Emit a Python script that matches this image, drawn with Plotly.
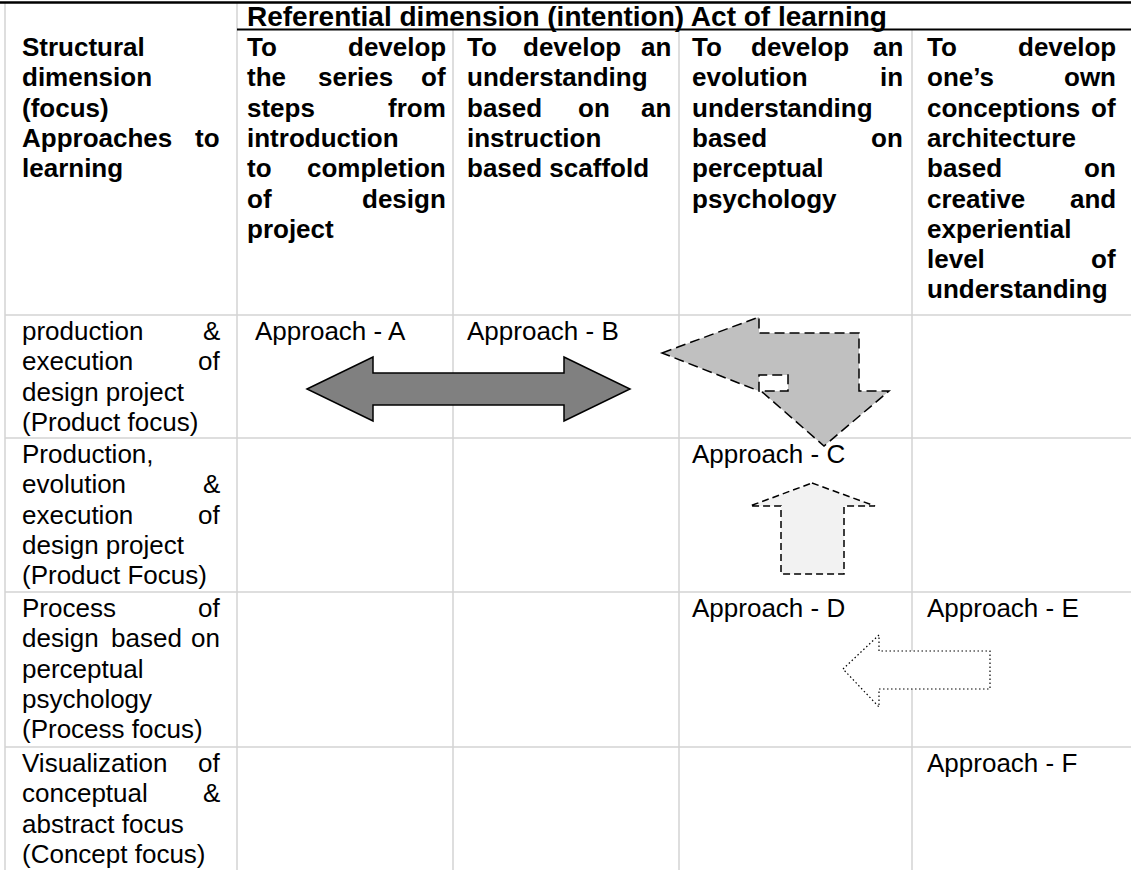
import plotly.graph_objects as go

W, H = 1131, 870

# ---------------- data (table content) ----------------
header_title = "Referential dimension (intention) Act of learning"

col_headers = [
    ["Structural", "dimension", "(focus)", "Approaches to", "learning"],
    ["To develop", "the series of", "steps from", "introduction", "to completion", "of design", "project"],
    ["To develop an", "understanding", "based on an", "instruction", "based scaffold"],
    ["To develop an", "evolution in", "understanding", "based on", "perceptual", "psychology"],
    ["To develop", "one’s own", "conceptions of", "architecture", "based on", "creative and",
     "experiential", "level of", "understanding"],
]
col_header_justified = [
    [False, False, False, True, False],
    [True, True, True, False, True, True, False],
    [True, False, True, False, False],
    [True, True, False, True, False, False],
    [True, True, True, False, True, True, False, True, False],
]

row_labels = [
    ["production &", "execution of", "design project", "(Product focus)"],
    ["Production,", "evolution &", "execution of", "design project", "(Product Focus)"],
    ["Process of", "design based on", "perceptual", "psychology", "(Process focus)"],
    ["Visualization of", "conceptual &", "abstract focus", "(Concept focus)"],
]
row_label_justified = [
    [True, True, False, False],
    [False, True, True, False, False],
    [True, True, False, False, False],
    [True, True, False, False],
]

approach_text = ["Approach - A", "Approach - B", "Approach - C", "Approach - D", "Approach - E", "Approach - F"]
approach_row = [0, 0, 1, 2, 2, 3]
approach_col = [1, 2, 3, 3, 4, 4]

# ---------------- layout geometry ----------------
col_lines = [5, 237, 453, 679, 912]
row_tops = [315, 438, 592, 747]
head_left = [20, 245, 465, 690, 925]
head_right = [222, 448, 673, 905, 1118]
body_left = [20, 253, 465, 690, 925]
body_right = [222, 448, 673, 905, 1118]
LINE_H = 30.3
HEAD_Y0 = 47
BODY_DY = 16
FS_REG = 26
FS_BOLD = 26
FS_TITLE = 28
FONT = "Liberation Sans, Arial, sans-serif"
FONT_B = "Liberation Sans, Arial, sans-serif"

REG = {' ': 278, '&': 667, '(': 333, ')': 333, ',': 278, '-': 333, '’': 222,
       'a': 556, 'b': 556, 'c': 500, 'd': 556, 'e': 556, 'f': 278, 'g': 556, 'h': 556, 'i': 222,
       'j': 222, 'k': 500, 'l': 222, 'm': 833, 'n': 556, 'o': 556, 'p': 556, 'q': 556, 'r': 333,
       's': 500, 't': 278, 'u': 556, 'v': 500, 'w': 722, 'x': 500, 'y': 500, 'z': 500,
       'A': 667, 'B': 667, 'C': 722, 'D': 722, 'E': 667, 'F': 611, 'P': 667, 'V': 667}
BOLD = {' ': 278, '&': 722, '(': 333, ')': 333, ',': 278, '-': 333, '’': 278,
        'a': 556, 'b': 611, 'c': 556, 'd': 611, 'e': 556, 'f': 333, 'g': 611, 'h': 611, 'i': 278,
        'j': 278, 'k': 556, 'l': 278, 'm': 889, 'n': 611, 'o': 611, 'p': 611, 'q': 611, 'r': 389,
        's': 556, 't': 333, 'u': 611, 'v': 556, 'w': 778, 'x': 556, 'y': 556, 'z': 500,
        'A': 722, 'S': 667, 'T': 611, 'R': 722}


def tw(s, bold, size):
    tbl = BOLD if bold else REG
    return sum(tbl.get(ch, 556) for ch in s) * size / 1000.0


annotations = []


def add_text(x, y, s, bold, size, anchor="left"):
    txt = "<b>%s</b>" % s if bold else s
    annotations.append(dict(x=x, y=y, xref="x", yref="y", text=txt, showarrow=False,
                            xanchor=anchor, yanchor="middle",
                            font=dict(family=FONT_B if bold else FONT, size=size, color="black")))


def add_line(s, xl, xr, y, bold, size, justified):
    words = s.split(" ")
    if not justified or len(words) < 2:
        add_text(xl, y, s, bold, size, "left")
        return
    widths = [tw(w, bold, size) for w in words]
    gap = (xr - xl - sum(widths)) / (len(words) - 1)
    x = xl
    for i, w in enumerate(words):
        if i == 0:
            add_text(xl, y, w, bold, size, "left")
        elif i == len(words) - 1:
            add_text(xr, y, w, bold, size, "right")
        else:
            add_text(x, y, w, bold, size, "left")
        x += widths[i] + gap


# title row
add_text(245, 16, header_title, True, FS_TITLE, "left")

# column headers
for c, lines in enumerate(col_headers):
    for i, ln in enumerate(lines):
        add_line(ln, head_left[c], head_right[c], HEAD_Y0 + i * LINE_H, True, FS_BOLD,
                 col_header_justified[c][i])

# row labels
for r, lines in enumerate(row_labels):
    for i, ln in enumerate(lines):
        add_line(ln, body_left[0], body_right[0], row_tops[r] + BODY_DY + i * LINE_H, False, FS_REG,
                 row_label_justified[r][i])

# approach cells
for t, r, c in zip(approach_text, approach_row, approach_col):
    add_text(body_left[c], row_tops[r] + BODY_DY, t, False, FS_REG, "left")

# ---------------- shapes ----------------
shapes = []
GRID = "#D3D3D3"
for i, x in enumerate(col_lines):
    y0 = 3 if i < 2 else 29
    shapes.append(dict(type="line", xref="x", yref="y", x0=x, x1=x, y0=y0, y1=H,
                       line=dict(color=GRID, width=1.5), layer="below"))
for y in row_tops:
    shapes.append(dict(type="line", xref="x", yref="y", x0=col_lines[0], x1=W, y0=y, y1=y,
                       line=dict(color=GRID, width=1.5), layer="below"))
shapes.append(dict(type="line", xref="x", yref="y", x0=0, x1=W, y0=2.5, y1=2.5,
                   line=dict(color="black", width=2.5)))
shapes.append(dict(type="line", xref="x", yref="y", x0=col_lines[1], x1=W, y0=29.5, y1=29.5,
                   line=dict(color="black", width=2)))


def poly(pts):
    return "M " + " L ".join("%.1f,%.1f" % p for p in pts) + " Z"


# double arrow between Approach A and B
double_arrow = [(307, 389), (373, 357), (373, 373), (564, 373), (564, 357), (630, 389),
                (564, 421), (564, 405), (373, 405), (373, 421)]
shapes.append(dict(type="path", xref="x", yref="y", path=poly(double_arrow),
                   fillcolor="#808080", line=dict(color="black", width=1.5)))

# bent dashed arrow (B -> C)
bent_arrow = [(662, 353), (759, 317), (759, 333), (859, 333), (859, 391), (889, 391),
              (824, 446), (761, 391), (788, 391), (788, 375), (759, 375), (759, 391)]
shapes.append(dict(type="path", xref="x", yref="y", path=poly(bent_arrow),
                   fillcolor="#C0C0C0", line=dict(color="black", width=1.5, dash="10px,5px")))

# up dashed arrow (D -> C)
up_arrow = [(812, 483), (875, 506), (844, 506), (844, 574), (781, 574), (781, 506), (750, 506)]
shapes.append(dict(type="path", xref="x", yref="y", path=poly(up_arrow),
                   fillcolor="#F2F2F2", line=dict(color="black", width=1.5, dash="7px,4px")))

# dotted left arrow (E -> D)
left_arrow = [(843, 669), (879, 635), (879, 651), (990, 651), (990, 689), (879, 689), (879, 707)]
shapes.append(dict(type="path", xref="x", yref="y", path=poly(left_arrow),
                   fillcolor="white", line=dict(color="black", width=1.2, dash="1.5px,2.5px")))

fig = go.Figure()
fig.update_layout(
    width=W, height=H, margin=dict(l=0, r=0, t=0, b=0),
    paper_bgcolor="white", plot_bgcolor="white",
    xaxis=dict(range=[0, W], visible=False, fixedrange=True),
    yaxis=dict(range=[H, 0], visible=False, fixedrange=True),
    shapes=shapes, annotations=annotations, showlegend=False,
)
fig.write_html("out.html", config={"displayModeBar": False},
               post_script="document.body.style.margin='0';document.body.style.overflow='hidden';")
